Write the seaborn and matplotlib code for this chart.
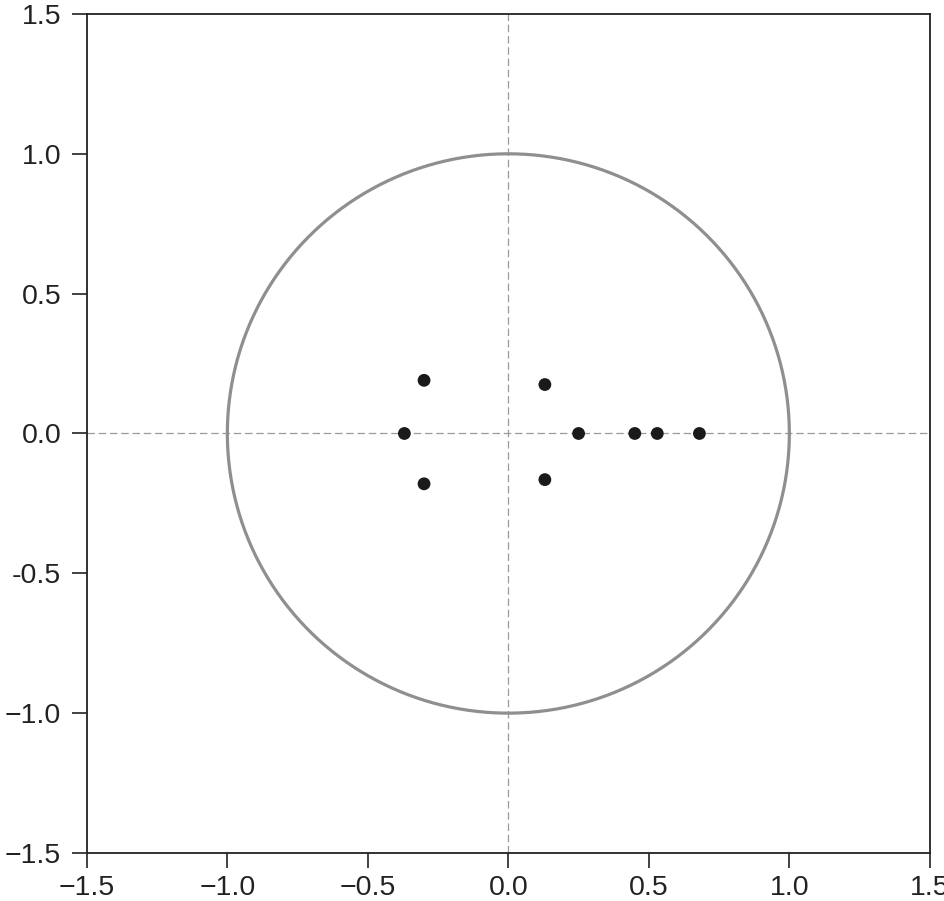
import numpy as np
import pandas as pd
import matplotlib
matplotlib.use("Agg")
import matplotlib.pyplot as plt
import seaborn as sns

root_re = [-0.30, -0.37, -0.30, 0.13, 0.13, 0.25, 0.45, 0.53, 0.68]
root_im = [0.19, 0.0, -0.18, 0.175, -0.165, 0.0, 0.0, 0.0, 0.0]

x_ticks = [-1.5, -1.0, -0.5, 0.0, 0.5, 1.0, 1.5]
x_labels = ["\u22121.5", "\u22121.0", "\u22120.5", "0.0", "0.5", "1.0", "1.5"]
y_ticks = [-1.5, -1.0, -0.5, 0.0, 0.5, 1.0, 1.5]
y_labels = ["\u22121.5", "\u22121.0", "-0.5", "0.0", "0.5", "1.0", "1.5"]

sns.set_style("ticks")
plt.rcParams['font.family'] = ['Liberation Sans', 'DejaVu Sans']

fig = plt.figure(figsize=(9.44, 9.01), dpi=100)
ax = fig.add_axes([0.092, 0.0533, 0.893, 0.9312])

# unit circle
theta = np.linspace(0, 2 * np.pi, 400)
circle = pd.DataFrame({"x": np.cos(theta), "y": np.sin(theta)})
sns.lineplot(data=circle, x="x", y="y", sort=False, estimator=None,
             color="#8f8f8f", linewidth=2.3, ax=ax)

# reference axes
ax.axhline(0, color="#9a9a9a", linestyle=(0, (6, 3)), linewidth=0.9, zorder=1)
ax.axvline(0, color="#9a9a9a", linestyle=(0, (6, 3)), linewidth=0.9, zorder=1)

roots = pd.DataFrame({"re": root_re, "im": root_im})
sns.scatterplot(data=roots, x="re", y="im", color="#1a1a1a", s=85,
                edgecolor="none", ax=ax, zorder=3)

ax.set_xlim(-1.5, 1.5)
ax.set_ylim(-1.5, 1.5)
ax.set_xticks(x_ticks)
ax.set_xticklabels(x_labels)
ax.set_yticks(y_ticks)
ax.set_yticklabels(y_labels)
ax.set_xlabel("")
ax.set_ylabel("")
ax.tick_params(direction="out", length=10.5, width=1.2, labelsize=20.5,
               colors="#222222")
ax.tick_params(axis="x", pad=5)
ax.tick_params(axis="y", pad=8)
for s in ax.spines.values():
    s.set_color("#222222")
    s.set_linewidth(1.3)

fig.savefig("out.png", dpi=100)
